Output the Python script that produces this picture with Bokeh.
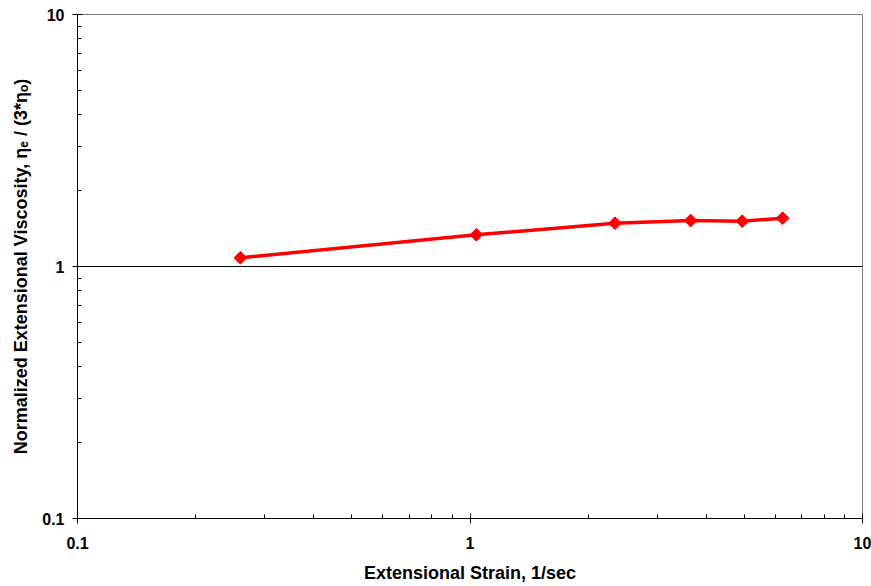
import math
from bokeh.plotting import figure
from bokeh.models import Range1d, FixedTicker
from bokeh.embed import file_html
from bokeh.resources import INLINE

# Data
strain = [0.260, 1.038, 2.34, 3.65, 4.94, 6.26]
viscosity = [1.083, 1.336, 1.485, 1.522, 1.513, 1.555]

major_ticks = [0.1, 1, 10]
minor_ticks = [0.2, 0.3, 0.4, 0.5, 0.6, 0.7, 0.8, 0.9, 2, 3, 4, 5, 6, 7, 8, 9]
tick_labels = {0.1: "0.1", 1: "1", 10: "10"}

x_title = "Extensional Strain, 1/sec"
y_title = "Normalized Extensional Viscosity, \u03b7\u2091 / (3*\u03b7\u2092)"

p = figure(width=871, height=586, x_axis_type="log", y_axis_type="log",
           x_range=Range1d(0.1, 10), y_range=Range1d(0.1, 10),
           output_backend="svg", toolbar_location=None,
           min_border_left=77, min_border_right=9, min_border_top=14, min_border_bottom=68)

p.background_fill_color = "white"
p.border_fill_color = "white"
p.outline_line_color = "#808080"
p.outline_line_width = 1

for ax in (p.xaxis[0], p.yaxis[0]):
    ax.ticker = FixedTicker(ticks=major_ticks, minor_ticks=minor_ticks)
    ax.major_label_overrides = tick_labels
    ax.axis_line_color = "black"
    ax.axis_line_width = 1
    ax.major_tick_line_color = "black"
    ax.minor_tick_line_color = "black"
    ax.major_tick_in = 5
    ax.major_tick_out = 5
    ax.minor_tick_in = 4
    ax.minor_tick_out = 0
    ax.major_label_text_font = "Liberation Sans"
    ax.major_label_text_font_style = "bold"
    ax.major_label_text_font_size = "16px"
    ax.major_label_text_color = "black"
    ax.axis_label_text_font = "Liberation Sans"
    ax.axis_label_text_font_style = "bold"
    ax.axis_label_text_font_size = "18px"
    ax.axis_label_text_color = "black"

p.xaxis.axis_label = x_title
p.yaxis.axis_label = y_title
p.xaxis.major_label_standoff = 13
p.yaxis.major_label_standoff = 8
p.xaxis.axis_label_standoff = 11
p.yaxis.axis_label_standoff = 8

p.xgrid.visible = False
p.ygrid.ticker = FixedTicker(ticks=[1])
p.ygrid.grid_line_color = "black"
p.ygrid.grid_line_width = 1
p.ygrid.grid_line_alpha = 1.0

p.line(strain, viscosity, line_color="#ff0000", line_width=3.5)
p.scatter(strain, viscosity, marker="square", angle=math.pi / 4, size=9,
          fill_color="#ff0000", line_color="#ff0000")

open("out.html", "w").write(file_html(p, INLINE))
